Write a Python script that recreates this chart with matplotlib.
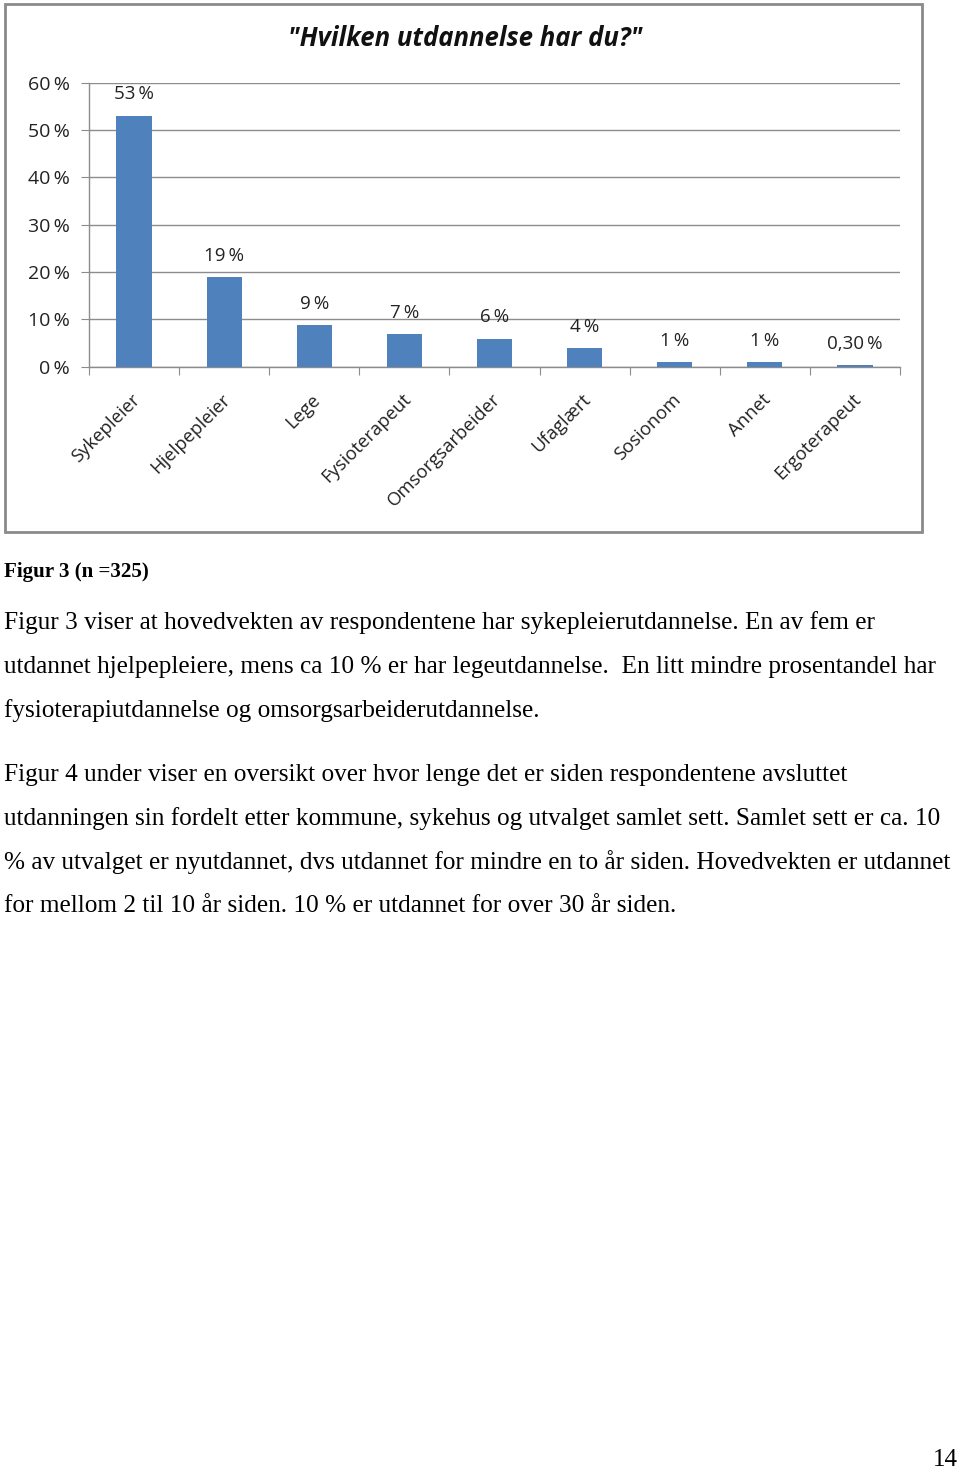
import matplotlib
matplotlib.use("Agg")
import matplotlib.pyplot as plt
from matplotlib.patches import Rectangle

categories = ["Sykepleier", "Hjelpepleier", "Lege", "Fysioterapeut", "Omsorgsarbeider",
              "Ufaglært", "Sosionom", "Annet", "Ergoterapeut"]
values = [53.0, 18.9, 8.8, 6.9, 5.9, 3.9, 0.9, 0.9, 0.3]
value_labels = ["53\u2009%", "19\u2009%", "9\u2009%", "7\u2009%", "6\u2009%", "4\u2009%",
                "1\u2009%", "1\u2009%", "0,30\u2009%"]
y_ticks = [0, 10, 20, 30, 40, 50, 60]
y_tick_labels = ["0\u2009%", "10\u2009%", "20\u2009%", "30\u2009%", "40\u2009%", "50\u2009%", "60\u2009%"]
title = "\"Hvilken utdannelse har du?\""

caption = "Figur 3 (n =325)"
para1 = [
    "Figur 3 viser at hovedvekten av respondentene har sykepleierutdannelse. En av fem er",
    "utdannet hjelpepleiere, mens ca 10 % er har legeutdannelse.  En litt mindre prosentandel har",
    "fysioterapiutdannelse og omsorgsarbeiderutdannelse.",
]
para2 = [
    "Figur 4 under viser en oversikt over hvor lenge det er siden respondentene avsluttet",
    "utdanningen sin fordelt etter kommune, sykehus og utvalget samlet sett. Samlet sett er ca. 10",
    "% av utvalget er nyutdannet, dvs utdannet for mindre en to år siden. Hovedvekten er utdannet",
    "for mellom 2 til 10 år siden. 10 % er utdannet for over 30 år siden.",
]
page_number = "14"

W, H = 960, 1470
fig = plt.figure(figsize=(W / 100, H / 100), dpi=100)

def fx(px):
    return px / W

def fy(py):
    return 1 - py / H

sans = ["Open Sans", "DejaVu Sans"]

# chart frame
fig.patches.append(Rectangle((fx(5), fy(532)), fx(922) - fx(5), fy(4) - fy(532),
                             transform=fig.transFigure, fill=False,
                             edgecolor="#8a8a8a", linewidth=2))

ax_left, ax_right, ax_top, ax_bot = 89, 900, 82.7, 366.7
ax = fig.add_axes([fx(ax_left), fy(ax_bot), fx(ax_right) - fx(ax_left), fy(ax_top) - fy(ax_bot)])
x = list(range(len(categories)))
ax.bar(x, values, width=0.39, color="#4F81BD", zorder=3)
ax.set_xlim(-0.5, len(categories) - 0.5)
ax.set_ylim(0, 60)
ax.set_yticks(y_ticks)
ax.set_yticklabels(y_tick_labels, fontsize=14, family=sans, color="#222222")
ax.grid(axis="y", color="#8c8c8c", linewidth=1, zorder=0)
for s in ["top", "right"]:
    ax.spines[s].set_visible(False)
for s in ["left", "bottom"]:
    ax.spines[s].set_color("#8c8c8c")
    ax.spines[s].set_linewidth(1)
ax.tick_params(axis="y", length=6, color="#8c8c8c", pad=8)
ax.set_xticks([i - 0.5 for i in range(len(categories) + 1)], minor=False)
ax.set_xticklabels([])
ax.tick_params(axis="x", length=6, color="#8c8c8c", direction="out")
for i, lab in enumerate(categories):
    ax.annotate(lab, xy=(i, 0), xycoords="data", xytext=(-2, -17), textcoords="offset points",
                rotation=45, ha="right", va="top", rotation_mode="anchor",
                fontsize=13.3, family=sans, color="#222222")
for i, (v, lab) in enumerate(zip(values, value_labels)):
    ax.annotate(lab, xy=(i, v), xytext=(0, 9), textcoords="offset points",
                ha="center", va="bottom", fontsize=13.5, family=sans, color="#222222")

fig.text(fx(465), fy(38), title, ha="center", va="center", fontsize=18.5,
         family="Open Sans", weight="bold", style="italic", color="#111111")

serif = "Liberation Serif"
fig.text(fx(4), fy(572), caption, ha="left", va="center", fontsize=15.1,
         family=serif, weight="bold")
for j, line in enumerate(para1):
    fig.text(fx(4), fy(623 + 44 * j), line, ha="left", va="center", fontsize=18.2, family=serif)
for j, line in enumerate(para2):
    fig.text(fx(4), fy(775 + 43.7 * j), line, ha="left", va="center", fontsize=18.2, family=serif)
fig.text(fx(958), fy(1460), page_number, ha="right", va="center", fontsize=18, family=serif)

fig.savefig("out.png", dpi=100)
